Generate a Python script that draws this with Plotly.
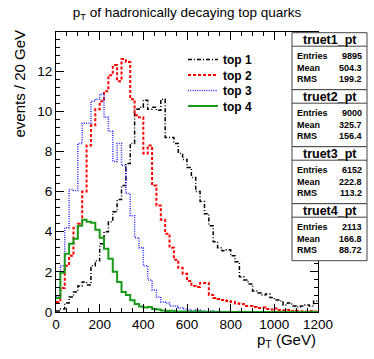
import plotly.graph_objects as go

# ---------------- data ----------------
bin_edges = list(range(0, 1201, 20))  # GeV, 60 bins of 20 GeV

top1 = [0.05, 0.15, 0.45, 0.75, 1.0, 1.3, 1.5, 1.35, 2.3, 2.55,
        3.4, 4.0, 4.5, 5.0, 5.6, 6.3, 7.4, 8.4, 10.1, 10.2,
        10.55, 10.1, 10.2, 10.05, 10.6, 8.7, 8.7, 8.4, 7.9, 7.6,
        7.2, 6.7, 6.0, 5.5, 4.9, 4.3, 3.5, 3.2, 3.05, 3.1,
        2.8, 2.5, 1.75, 1.6, 1.4, 1.05, 0.95, 0.85, 0.9, 0.72,
        0.6, 0.55, 0.35, 0.45, 0.3, 0.25, 0.3, 0.35, 0.3, 0.55]

top2 = [0.5, 1.2, 2.3, 2.8, 4.2, 4.4, 6.0, 8.3, 9.3, 10.1,
        10.5, 11.0, 11.8, 12.3, 11.5, 12.6, 12.45, 10.6, 9.8, 9.7,
        7.9, 8.3, 6.3, 5.3, 4.6, 3.9, 3.2, 2.6, 2.2, 1.9,
        1.55, 1.3, 1.25, 1.45, 1.45, 0.85, 0.7, 0.65, 0.6, 0.55,
        0.5, 0.42, 0.4, 0.3, 0.3, 0.25, 0.2, 0.22, 0.15, 0.12,
        0.18, 0.1, 0.08, 0.1, 0.05, 0.06, 0.04, 0.03, 0.05, 0.02]

top3 = [0.8, 2.3, 4.2, 6.1, 6.05, 8.4, 9.4, 9.4, 10.5, 10.6,
        10.85, 9.7, 9.0, 7.5, 8.4, 7.3, 5.9, 4.8, 3.7, 3.2,
        2.3, 1.6, 1.1, 0.75, 0.5, 0.45, 0.3, 0.3, 0.2, 0.15,
        0.12, 0.08, 0.1, 0.05, 0.04, 0.05, 0.03, 0.02, 0.03, 0.02,
        0.01, 0.02, 0.01, 0.0, 0.01, 0.0, 0.0, 0.0, 0.0, 0.0,
        0.0, 0.0, 0.0, 0.0, 0.0, 0.0, 0.0, 0.0, 0.0, 0.0]

top4 = [0.7, 1.95, 2.9, 3.4, 3.65, 4.3, 4.6, 4.5, 4.45, 4.1,
        3.7, 3.15, 2.65, 2.0, 1.5, 1.0, 0.85, 0.58, 0.4, 0.28,
        0.22, 0.25, 0.15, 0.12, 0.08, 0.05, 0.06, 0.03, 0.02, 0.03,
        0.02, 0.01, 0.02, 0.01, 0.0, 0.0, 0.0, 0.0, 0.0, 0.0,
        0.0, 0.0, 0.0, 0.0, 0.0, 0.0, 0.0, 0.0, 0.0, 0.0,
        0.0, 0.0, 0.0, 0.0, 0.0, 0.0, 0.0, 0.0, 0.0, 0.0]

series_names = ["top 1", "top 2", "top 3", "top 4"]
stat_titles = ["truet1_pt", "truet2_pt", "truet3_pt", "truet4_pt"]
stat_entries = ["9895", "9000", "6152", "2113"]
stat_means = ["504.3", "325.7", "222.8", "166.8"]
stat_rms = ["199.2", "156.4", "113.2", "88.72"]

# ---------------- styling ----------------
W, H = 374, 359
ML, MR, MT, MB = 56, 56, 32, 47
FONT = "Liberation Sans, Arial, Helvetica, sans-serif"

styles = [
    dict(color="#000000", dash="4px,2px,1px,2px", width=1.5),
    dict(color="#ff0000", dash="3px,2px", width=2),
    dict(color="#2a2aff", dash="1px,1.3px", width=1.5),
    dict(color="#1a9a1a", dash="solid", width=2),
]

def px_x(p):
    return (p - ML) / (W - ML - MR)

def px_y(p):
    return (H - MB - p) / (H - MT - MB)

legend_ids = ["legend", "legend2", "legend3", "legend4"]
legend_centers = [60, 75.5, 91, 106.5]

fig = go.Figure()
for name, vals, st, lid in zip(series_names, [top1, top2, top3, top4], styles, legend_ids):
    fig.add_trace(go.Scatter(
        x=bin_edges, y=vals + [vals[-1]], mode="lines", name=name, legend=lid,
        line=dict(shape="hv", **st), hoverinfo="skip"))

shapes = []
annotations = []
box_h = 57
for i in range(4):
    top = 32.7 + box_h * i
    shapes.append(dict(type="rect", xref="paper", yref="paper",
                       x0=px_x(292), x1=px_x(367), y0=px_y(top), y1=px_y(top + box_h),
                       fillcolor="white", line=dict(color="#444444", width=1), layer="above"))
    shapes.append(dict(type="line", xref="paper", yref="paper",
                       x0=px_x(292), x1=px_x(367), y0=px_y(top + 13.5), y1=px_y(top + 13.5),
                       line=dict(color="#444444", width=1), layer="above"))
    annotations.append(dict(text=stat_titles[i], xref="paper", yref="paper",
                            x=px_x(329.5), y=px_y(top + 7.2), xanchor="center", yanchor="middle",
                            showarrow=False, font=dict(family=FONT, size=12.5, color="black", weight="bold")))
    for j, (lab, val) in enumerate(zip(["Entries", "Mean", "RMS"],
                                       [stat_entries[i], stat_means[i], stat_rms[i]])):
        yy = top + 23.5 + 11.5 * j
        annotations.append(dict(text=lab, xref="paper", yref="paper",
                                x=px_x(295), y=px_y(yy), xanchor="left", yanchor="middle",
                                showarrow=False, font=dict(family=FONT, size=9, color="black", weight="bold")))
        annotations.append(dict(text=val, xref="paper", yref="paper",
                                x=px_x(363.5), y=px_y(yy), xanchor="right", yanchor="middle",
                                showarrow=False, font=dict(family=FONT, size=9, color="black", weight="bold")))

annotations.append(dict(text="events / 20 GeV", textangle=-90, xref="paper", yref="paper",
                        x=px_x(18.5), y=px_y(28), xanchor="center", yanchor="top",
                        showarrow=False, font=dict(family=FONT, size=15, color="black")))
annotations.append(dict(text="p<sub>T</sub> (GeV)", xref="paper", yref="paper",
                        x=px_x(318), y=px_y(340), xanchor="right", yanchor="middle",
                        showarrow=False, font=dict(family=FONT, size=15, color="black")))

axis_common = dict(showgrid=False, zeroline=False, showline=True, linecolor="black", linewidth=1,
                   mirror="allticks", ticks="inside", tickcolor="black", tickwidth=1,
                   tickfont=dict(family=FONT, size=13.5, color="black"))

legend_layout = {}
for lid, c in zip(legend_ids, legend_centers):
    legend_layout[lid] = dict(x=px_x(183), y=px_y(c - 15), xanchor="left", yanchor="top",
                              bgcolor="rgba(0,0,0,0)", borderwidth=0,
                              font=dict(family=FONT, size=12, color="black", weight="bold"))

fig.update_layout(
    width=W, height=H,
    margin=dict(l=ML, r=MR, t=MT, b=MB, pad=0),
    paper_bgcolor="white", plot_bgcolor="white",
    font=dict(family=FONT, color="black"),
    title=dict(text="p<sub>T</sub> of hadronically decaying top quarks",
               x=0.5, xref="container", xanchor="center",
               y=1 - 12 / H, yref="container", yanchor="middle",
               font=dict(family=FONT, size=13.5, color="black")),
    xaxis=dict(range=[0, 1200], tick0=0, dtick=200, ticklen=8,
               minor=dict(dtick=50, ticklen=4, ticks="inside", tickcolor="black"),
               **axis_common),
    yaxis=dict(range=[0, 13.95], tick0=0, dtick=2, ticklen=8,
               minor=dict(dtick=0.4, ticklen=4, ticks="inside", tickcolor="black"),
               **axis_common),
    showlegend=True,
    hovermode=False,
    shapes=shapes, annotations=annotations,
    **legend_layout,
)

fig.write_html("out.html", config={"displayModeBar": False, "staticPlot": True},
               post_script="document.body.style.margin='0';document.body.style.padding='0';")
